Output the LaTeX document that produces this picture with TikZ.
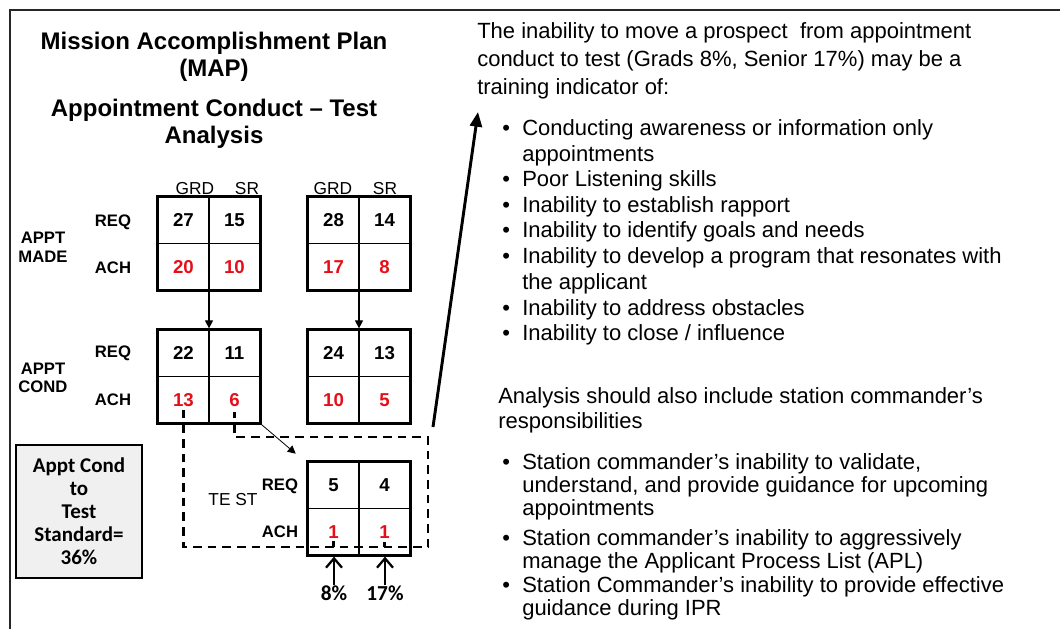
\documentclass[tikz,border=0pt]{standalone}
\usepackage{fontspec}
\setmainfont{Liberation Sans}
\newfontfamily\calfont{Carlito}
\usetikzlibrary{arrows.meta, positioning, fit}
\definecolor{achred}{rgb}{0.90, 0.06, 0.10}
\definecolor{stdgray}{rgb}{0.94, 0.94, 0.94}

\begin{document}
\begin{tikzpicture}[x=0.75pt, y=-0.75pt,
        cell/.style={draw, line width=0.8pt, minimum width=38.25pt, minimum height=34.9pt, inner sep=0pt, font=\fontsize{14pt}{16pt}\selectfont\bfseries},
        ach/.style={text=achred},
        grid/.style={draw, line width=1.6pt, inner sep=0pt},
        lab/.style={inner sep=0pt, font=\fontsize{12.5pt}{14pt}\selectfont\bfseries},
        head/.style={inner sep=0pt, font=\fontsize{13pt}{14pt}\selectfont},
        title/.style={inner sep=0pt, font=\fontsize{18pt}{20pt}\selectfont\bfseries},
        body/.style={anchor=west, inner sep=0pt, text height=12pt, text depth=3.5pt, font=\fontsize{16.5pt}{19pt}\selectfont},
        stdbox/.style={draw, line width=1.2pt, fill=stdgray, align=center, inner sep=0pt, minimum width=94.5pt, minimum height=99.75pt, font=\calfont\bfseries\fontsize{15.75pt}{17.25pt}\selectfont},
        pct/.style={inner sep=0pt, font=\calfont\bfseries\fontsize{16pt}{18pt}\selectfont},
        dashline/.style={line width=1.9pt, dash pattern=on 6.5pt off 4.5pt},
        downarr/.style={line width=0.9pt, -{Triangle[length=6pt, width=6pt]}},
        thinarr/.style={line width=0.6pt, -{Triangle[length=6pt, width=6pt]}},
        uparr/.style={line width=1.7pt, -{Straight Barb[length=7pt, width=12pt]}},
        bigarr/.style={line width=2.2pt, -{Triangle[length=11pt, width=9pt]}}]
    \useasboundingbox (0,0) rectangle (1060,629);

    % frame
    \draw[line width=1.5pt, black!85] (10,629) -- (10,10) -- (1060,10);

    % titles
    \node[title] (t1) at (214,43) {Mission Accomplishment Plan};
    \node[title] (t2) at (214,70) {(MAP)};
    \node[title] (t3) at (214,110) {Appointment Conduct -- Test};
    \node[title] (t4) at (214,137) {Analysis};

    % the five 2x2 grids
    \foreach \g/\x/\y/\a/\b/\c/\d in {ma/158/197/27/15/20/10, mb/308/197/28/14/17/8,
            ca/158/330/22/11/13/6, cb/308/330/24/13/10/5, te/308/462/5/4/1/1}{
        \node[cell] (\g-rg) at (\x+25.5,\y+23.25) {\a};
        \node[cell] (\g-rs) at (\x+76.5,\y+23.25) {\b};
        \node[cell, ach] (\g-ag) at (\x+25.5,\y+69.75) {\c};
        \node[cell, ach] (\g-as) at (\x+76.5,\y+69.75) {\d};
        \node[grid, fit=(\g-rg)(\g-as)] (\g) {};
    }

    % column heads
    \node[head] (h1) at (195,189) {GRD};
    \node[head] (h2) at (247,189) {SR};
    \node[head] (h3) at (333,189) {GRD};
    \node[head] (h4) at (385,189) {SR};

    % row labels
    \node[lab] (r1) at (113,222) {REQ};
    \node[lab] (r2) at (113,268) {ACH};
    \node[lab] (r3) at (113,353) {REQ};
    \node[lab] (r4) at (113,400) {ACH};
    \node[lab] (r5) at (280,486) {REQ};
    \node[lab] (r6) at (280,532) {ACH};
    \node[lab, align=center] (made) at (43,247) {APPT\\MADE};
    \node[lab, align=center] (cond) at (43,378) {APPT\\COND};
    \node[head] (test) at (233,500) {TE ST};

    % standard
    \node[stdbox] (std) at (79,511.5) {Appt Cond\\to\\Test\\Standard=\\36\%};

    % flow
    \draw[downarr] (ma.south) -- (ca.north);
    \draw[downarr] (mb.south) -- (cb.north);
    \draw[thinarr] (ca.south east) -- ([xshift=-8pt, yshift=5pt]te.north west);

    \coordinate (dbr) at (428,547);
    \coordinate (dtr) at (428,437);
    \draw[dashline] ([yshift=-7.5pt]ca-ag.center) |- (dbr) -- (dtr) -| ([yshift=-9pt]ca-as.center);
    \draw[dashline] ([yshift=-7pt]te-ag.center) -- (te-ag |- dbr);
    \draw[dashline] ([yshift=-8pt]te-as.center) -- (te-as |- dbr);

    \node[pct] (p8) at (334,593) {8\%};
    \node[pct] (p17) at (385,593) {17\%};
    \draw[uparr] (p8.north) -- (p8.north |- te.south);
    \draw[uparr] (p17.north) -- (p17.north |- te.south);

    \coordinate (slant) at (433,427);
    \coordinate (tip) at (478,112);
    \draw[bigarr] (slant) -- (tip);

    % text on the right
    \foreach \y/\t [count=\i] in {33/{The inability to move a prospect \ from appointment},
            61/{conduct to test (Grads 8\%, Senior 17\%) may be a},
            89/{training indicator of:}}
        \node[body] (a\i) at (477,\y) {\t};
    \foreach \y/\t [count=\i] in {130/{Conducting awareness or information only},
            156/{appointments}, 181/{Poor Listening skills},
            207/{Inability to establish rapport}, 232/{Inability to identify goals and needs},
            258/{Inability to develop a program that resonates with},
            284/{the applicant}, 310/{Inability to address obstacles},
            335/{Inability to close / influence}}
        \node[body] (l\i) at (522,\y) {\t};
    \foreach \y/\t [count=\i] in {398/{Analysis should also include station commander’s},
            423/{responsibilities}}
        \node[body] (s\i) at (498,\y) {\t};
    \foreach \y/\t [count=\i] in {464/{Station commander’s inability to validate,},
            487/{understand, and provide guidance for upcoming},
            510/{appointments},
            540/{Station commander’s inability to aggressively},
            563/{manage the Applicant Process List (APL)},
            587/{Station Commander’s inability to provide effective},
            610/{guidance during IPR}}
        \node[body] (m\i) at (522,\y) {\t};
    \foreach \y [count=\i] in {130,181,207,232,258,310,335,464,540,587}
        \node[body] (b\i) at (502,\y) {•};
\end{tikzpicture}
\end{document}
